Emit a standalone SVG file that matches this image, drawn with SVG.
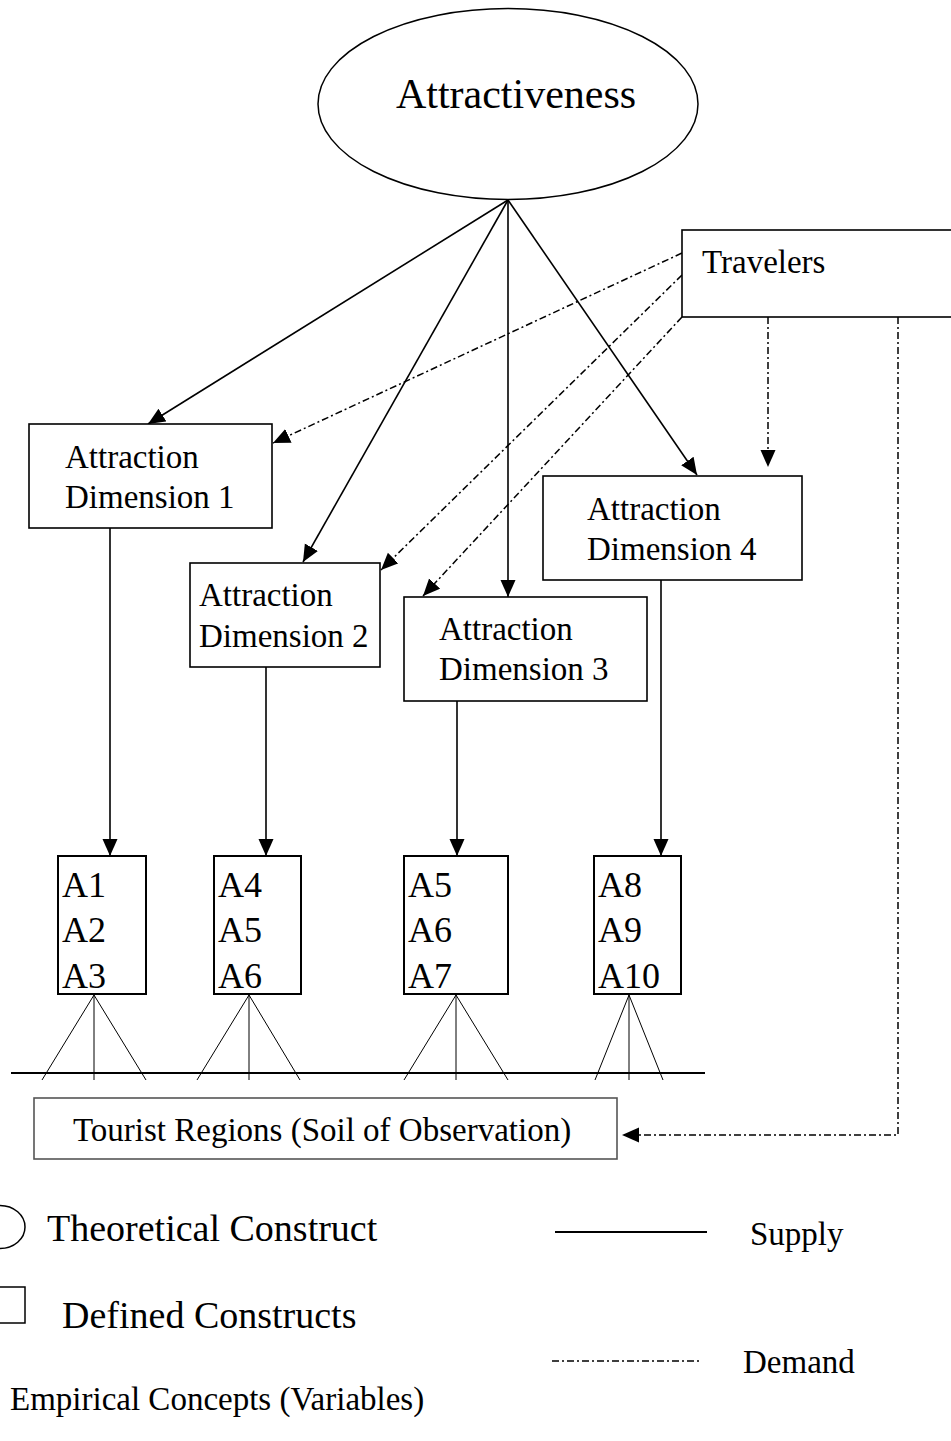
<svg xmlns="http://www.w3.org/2000/svg" width="951" height="1441" viewBox="0 0 951 1441">
<style>
text{font-family:"Liberation Serif","Times New Roman",serif;fill:#000}
.t33{font-size:33px}
.t36{font-size:36px}
.t38{font-size:38px}
.box{fill:#fff;stroke:#000;stroke-width:1.6}
.vbox{fill:#fff;stroke:#000;stroke-width:2}
.sup{stroke:#000;stroke-width:1.6;fill:none}
.dem{stroke:#000;stroke-width:1.5;fill:none;stroke-dasharray:7 3 2 3}
.thin{stroke:#000;stroke-width:1;fill:none}
</style>
<defs>
<marker id="ah" markerUnits="userSpaceOnUse" markerWidth="18" markerHeight="16" refX="17" refY="7.5" orient="auto">
<path d="M0,0 L17,7.5 L0,15 z" fill="#000"/>
</marker>
</defs>
<rect width="951" height="1441" fill="#fff"/>

<g id="connectors">
<line class="sup" x1="508" y1="200" x2="148" y2="424" marker-end="url(#ah)"/>
<line class="sup" x1="508" y1="200" x2="303" y2="562" marker-end="url(#ah)"/>
<line class="sup" x1="508" y1="200" x2="508" y2="597" marker-end="url(#ah)"/>
<line class="sup" x1="508" y1="200" x2="697" y2="475" marker-end="url(#ah)"/>
<line class="sup" x1="110" y1="528" x2="110" y2="856" marker-end="url(#ah)"/>
<line class="sup" x1="266" y1="667" x2="266" y2="856" marker-end="url(#ah)"/>
<line class="sup" x1="457" y1="701" x2="457" y2="856" marker-end="url(#ah)"/>
<line class="sup" x1="661" y1="576" x2="661" y2="856" marker-end="url(#ah)"/>
<line class="dem" x1="682" y1="253" x2="273" y2="443" marker-end="url(#ah)"/>
<line class="dem" x1="682" y1="275" x2="381" y2="570" marker-end="url(#ah)"/>
<line class="dem" x1="682" y1="317" x2="423" y2="596" marker-end="url(#ah)"/>
<line class="dem" x1="768" y1="317" x2="768" y2="467" marker-end="url(#ah)"/>
<polyline class="dem" points="898,317 898,1135 622,1135" marker-end="url(#ah)"/>
</g>

<g id="attractiveness">
<ellipse cx="508" cy="104" rx="190" ry="95.5" fill="#fff" stroke="#000" stroke-width="1.5"/>
<text x="516" y="108" text-anchor="middle" style="font-size:42px">Attractiveness</text>
</g>

<g id="travelers">
<rect class="box" x="682" y="230" width="280" height="87"/>
<text class="t33" x="702" y="273">Travelers</text>
</g>

<g id="dim1">
<rect class="box" x="29" y="424" width="243" height="104"/>
<text class="t33" x="65" y="468">Attraction</text>
<text class="t33" x="65" y="508">Dimension 1</text>
</g>
<g id="dim2">
<rect class="box" x="190" y="563" width="190" height="104"/>
<text class="t33" x="199" y="606">Attraction</text>
<text class="t33" x="199" y="647">Dimension 2</text>
</g>
<g id="dim3">
<rect class="box" x="404" y="597" width="243" height="104"/>
<text class="t33" x="439" y="640">Attraction</text>
<text class="t33" x="439" y="680">Dimension 3</text>
</g>
<g id="dim4">
<rect class="box" x="543" y="476" width="259" height="104"/>
<text class="t33" x="587" y="520">Attraction</text>
<text class="t33" x="587" y="560">Dimension 4</text>
</g>

<g id="var1">
<rect class="vbox" x="58" y="856" width="88" height="138"/>
<text class="t36" x="62" y="897">A1</text>
<text class="t36" x="62" y="942">A2</text>
<text class="t36" x="62" y="988">A3</text>
</g>
<g id="var2">
<rect class="vbox" x="214" y="856" width="87" height="138"/>
<text class="t36" x="218" y="897">A4</text>
<text class="t36" x="218" y="942">A5</text>
<text class="t36" x="218" y="988">A6</text>
</g>
<g id="var3">
<rect class="vbox" x="404" y="856" width="104" height="138"/>
<text class="t36" x="408" y="897">A5</text>
<text class="t36" x="408" y="942">A6</text>
<text class="t36" x="408" y="988">A7</text>
</g>
<g id="var4">
<rect class="vbox" x="594" y="856" width="87" height="138"/>
<text class="t36" x="598" y="897">A8</text>
<text class="t36" x="598" y="942">A9</text>
<text class="t36" x="598" y="988">A10</text>
</g>

<g id="soil">
<path class="thin" d="M94,995 L42,1080 M94,995 L94,1080 M94,995 L146,1080"/>
<path class="thin" d="M249,995 L197,1080 M249,995 L249,1080 M249,995 L300,1080"/>
<path class="thin" d="M456,995 L404,1080 M456,995 L456,1080 M456,995 L508,1080"/>
<path class="thin" d="M629,995 L595,1080 M629,995 L629,1080 M629,995 L663,1080"/>
<line x1="11" y1="1073" x2="705" y2="1073" stroke="#000" stroke-width="2"/>
</g>

<g id="tourist-regions">
<rect x="34" y="1098" width="583" height="61" fill="#fff" stroke="#555" stroke-width="1.6"/>
<text class="t33" x="73" y="1141">Tourist Regions (Soil of Observation)</text>
</g>

<g id="legend">
<ellipse cx="0" cy="1227" rx="25" ry="21.5" fill="none" stroke="#000" stroke-width="1.5"/>
<text class="t38" x="47" y="1241">Theoretical Construct</text>
<rect x="-10" y="1287" width="35" height="36" fill="none" stroke="#000" stroke-width="1.5"/>
<text class="t38" x="62" y="1328">Defined Constructs</text>
<text class="t33" x="10" y="1410">Empirical Concepts (Variables)</text>
<line x1="555" y1="1232" x2="707" y2="1232" stroke="#000" stroke-width="2"/>
<text class="t33" x="750" y="1245">Supply</text>
<line class="dem" x1="552" y1="1361" x2="699" y2="1361"/>
<text class="t33" x="743" y="1373">Demand</text>
</g>
</svg>
